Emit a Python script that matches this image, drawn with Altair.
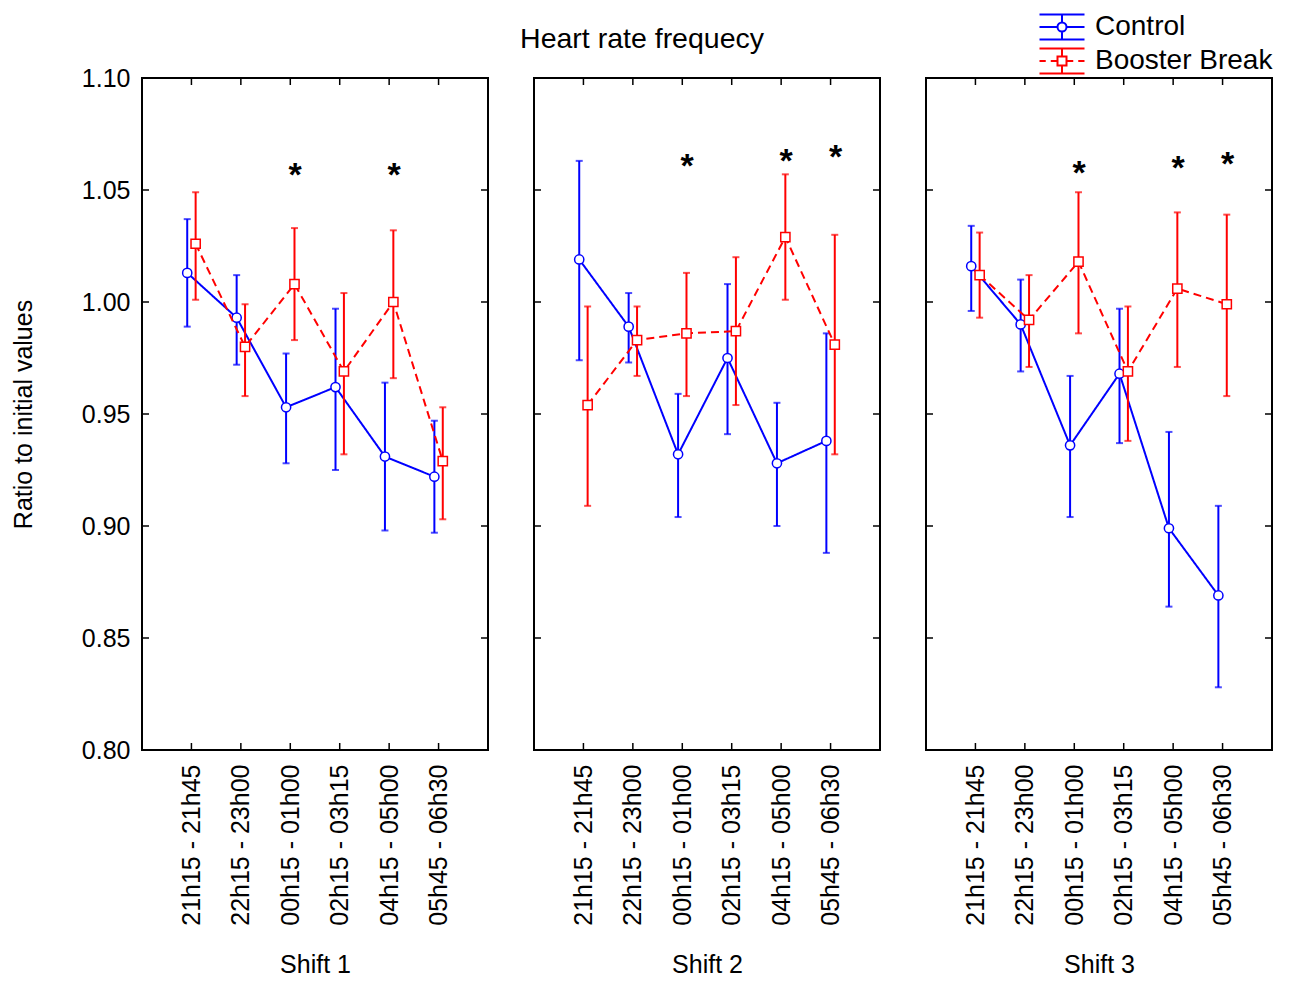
import altair as alt
import pandas as pd

# ---------------- data ----------------
slots = ["21h15 - 21h45", "22h15 - 23h00", "00h15 - 01h00",
         "02h15 - 03h15", "04h15 - 05h00", "05h45 - 06h30"]
shifts = ["Shift 1", "Shift 2", "Shift 3"]
groups = ["Control", "Booster Break"]

# Shift 1
s1_control_mean = [1.013, 0.993, 0.953, 0.962, 0.931, 0.922]
s1_control_lo = [0.989, 0.972, 0.928, 0.925, 0.898, 0.897]
s1_control_hi = [1.037, 1.012, 0.977, 0.997, 0.964, 0.947]
s1_booster_mean = [1.026, 0.980, 1.008, 0.969, 1.000, 0.929]
s1_booster_lo = [1.001, 0.958, 0.983, 0.932, 0.966, 0.903]
s1_booster_hi = [1.049, 0.999, 1.033, 1.004, 1.032, 0.953]

# Shift 2
s2_control_mean = [1.019, 0.989, 0.932, 0.975, 0.928, 0.938]
s2_control_lo = [0.974, 0.973, 0.904, 0.941, 0.900, 0.888]
s2_control_hi = [1.063, 1.004, 0.959, 1.008, 0.955, 0.986]
s2_booster_mean = [0.954, 0.983, 0.986, 0.987, 1.029, 0.981]
s2_booster_lo = [0.909, 0.967, 0.958, 0.954, 1.001, 0.932]
s2_booster_hi = [0.998, 0.998, 1.013, 1.020, 1.057, 1.030]

# Shift 3
s3_control_mean = [1.016, 0.990, 0.936, 0.968, 0.899, 0.869]
s3_control_lo = [0.996, 0.969, 0.904, 0.937, 0.864, 0.828]
s3_control_hi = [1.034, 1.010, 0.967, 0.997, 0.942, 0.909]
s3_booster_mean = [1.012, 0.992, 1.018, 0.969, 1.006, 0.999]
s3_booster_lo = [0.993, 0.971, 0.986, 0.938, 0.971, 0.958]
s3_booster_hi = [1.031, 1.012, 1.049, 0.998, 1.040, 1.039]

# significance markers: (slot number, height)
s1_stars_slot = [3, 5]
s1_stars_y = [1.059, 1.059]
s2_stars_slot = [3, 5, 6]
s2_stars_y = [1.063, 1.065, 1.067]
s3_stars_slot = [3, 5, 6]
s3_stars_y = [1.060, 1.062, 1.064]

y_ticks = [0.80, 0.85, 0.90, 0.95, 1.00, 1.05, 1.10]
inner_ticks = [0.85, 0.90, 0.95, 1.00, 1.05]

series = {
    "Shift 1": {"Control": (s1_control_mean, s1_control_lo, s1_control_hi),
                "Booster Break": (s1_booster_mean, s1_booster_lo, s1_booster_hi),
                "stars": (s1_stars_slot, s1_stars_y)},
    "Shift 2": {"Control": (s2_control_mean, s2_control_lo, s2_control_hi),
                "Booster Break": (s2_booster_mean, s2_booster_lo, s2_booster_hi),
                "stars": (s2_stars_slot, s2_stars_y)},
    "Shift 3": {"Control": (s3_control_mean, s3_control_lo, s3_control_hi),
                "Booster Break": (s3_booster_mean, s3_booster_lo, s3_booster_hi),
                "stars": (s3_stars_slot, s3_stars_y)},
}

rows = []
for sh in shifts:
    for g in groups:
        m, lo, hi = series[sh][g]
        for i in range(len(slots)):
            rows.append({"shift": sh, "group": g, "slot": i + 1,
                         "mean": m[i], "lo": lo[i], "hi": hi[i]})
df = pd.DataFrame(rows)

# ---------------- styling ----------------
FONT = "Liberation Sans"
W, H = 346, 672
COLORS = {"Control": "#0000ff", "Booster Break": "#ff0000"}
SHAPES = {"Control": "circle", "Booster Break": "square"}
DASH = {"Control": [1, 0], "Booster Break": [8, 5]}
OFFSET = {"Control": -0.085, "Booster Break": 0.085}

# legend glyphs (units: 1 = 12.5 px with symbolSize 625)
ctrl_path = ("M-1.8,-1H1.8M-1.8,1H1.8M-1.8,0H-0.36M0.36,0H1.8M0,-1V-0.36M0,0.36V1"
             "M0.36,0A0.36,0.36 0 1,1 -0.36,0A0.36,0.36 0 1,1 0.36,0Z")
boost_path = ("M-1.8,-1H1.8M-1.8,1H1.8M-1.8,0H-1.3M-0.9,0H-0.36M0.36,0H0.9M1.3,0H1.8"
              "M0,-1V-0.36M0,0.36V1M-0.36,-0.36H0.36V0.36H-0.36Z")

label_expr = "[" + ",".join("'%s'" % s for s in slots) + "][datum.value - 1]"
xscale = alt.Scale(domain=[0, 7], nice=False, zero=False)
yscale = alt.Scale(domain=[0.80, 1.10], nice=False, zero=False)


def x_axis(title):
    return alt.Axis(values=list(range(1, len(slots) + 1)), labelExpr=label_expr,
                    labelAngle=-90, ticks=False, domain=False, grid=False,
                    labelPadding=14, labelFontSize=25, labelFont=FONT,
                    labelColor="black", title=title, titleFontSize=25,
                    titleFont=FONT, titleFontWeight="normal", titleColor="black",
                    titlePadding=27)


def y_axis(first):
    if not first:
        return None
    return alt.Axis(values=y_ticks, format=".2f", ticks=False, domain=False,
                    grid=False, labelPadding=12, labelFontSize=25, labelFont=FONT,
                    labelColor="black", title="Ratio to initial values",
                    titleFontSize=25, titleFont=FONT, titleFontWeight="normal",
                    titleColor="black", titlePadding=45)


def panel(sh, first, with_legend):
    xa = x_axis(sh)
    ya = y_axis(first)
    d = df[df["shift"] == sh]
    layers = []

    # inward frame ticks
    tick_df = pd.DataFrame({"t": inner_ticks})
    slot_df = pd.DataFrame({"s": list(range(1, len(slots) + 1))})
    ty = alt.Y("t:Q", scale=yscale, axis=ya)
    tx = alt.X("s:Q", scale=xscale, axis=xa)
    layers.append(alt.Chart(tick_df).mark_rule(color="black", strokeWidth=1.5).encode(
        y=ty, x=alt.value(0), x2=alt.value(7)))
    layers.append(alt.Chart(tick_df).mark_rule(color="black", strokeWidth=1.5).encode(
        y=ty, x=alt.value(W - 7), x2=alt.value(W)))
    layers.append(alt.Chart(slot_df).mark_rule(color="black", strokeWidth=1.5).encode(
        x=tx, y=alt.value(0), y2=alt.value(7)))
    layers.append(alt.Chart(slot_df).mark_rule(color="black", strokeWidth=1.5).encode(
        x=tx, y=alt.value(H - 7), y2=alt.value(H)))

    for g in groups:
        c = COLORS[g]
        base = alt.Chart(d).transform_filter(alt.datum.group == g).transform_calculate(
            xp="datum.slot + (%f)" % OFFSET[g])
        X = alt.X("xp:Q", scale=xscale, axis=xa)
        layers.append(base.mark_rule(color=c, strokeWidth=2).encode(
            x=X, y=alt.Y("lo:Q", scale=yscale, axis=ya), y2="hi:Q"))
        for f in ["lo", "hi"]:
            layers.append(base.mark_tick(orient="horizontal", color=c, size=7,
                                         thickness=2).encode(
                x=X, y=alt.Y(f + ":Q", scale=yscale, axis=ya)))
        layers.append(base.mark_line(color=c, strokeWidth=2,
                                     strokeDash=DASH[g]).encode(
            x=X, y=alt.Y("mean:Q", scale=yscale, axis=ya), order="slot:Q"))
        layers.append(base.mark_point(shape=SHAPES[g], filled=True, fill="white",
                                      stroke=c, strokeWidth=1.5, size=85,
                                      opacity=1).encode(
            x=X, y=alt.Y("mean:Q", scale=yscale, axis=ya)))

    st_slot, st_y = series[sh]["stars"]
    star_df = pd.DataFrame({"slot": st_slot, "sy": st_y})
    layers.append(alt.Chart(star_df).transform_calculate(xp="datum.slot + 0.1").mark_text(
        text="*", fontSize=34, fontWeight="bold", font=FONT, color="black",
        baseline="middle", dy=6).encode(
        x=alt.X("xp:Q", scale=xscale, axis=xa),
        y=alt.Y("sy:Q", scale=yscale, axis=ya)))

    if with_legend:
        leg = alt.Legend(title=None, orient="none", legendX=906, legendY=-65,
                         symbolSize=625, symbolStrokeWidth=2,
                         symbolFillColor="white", symbolOpacity=1,
                         labelFontSize=28, labelFont=FONT, labelColor="black",
                         labelOffset=19, labelLimit=0, padding=0, rowPadding=0)
        layers.append(alt.Chart(df).transform_filter("false").mark_point().encode(
            x=alt.X("slot:Q", scale=xscale, axis=xa),
            y=alt.Y("mean:Q", scale=yscale, axis=ya),
            color=alt.Color("group:N", scale=alt.Scale(domain=groups,
                            range=[COLORS[g] for g in groups]), legend=leg),
            shape=alt.Shape("group:N", scale=alt.Scale(domain=groups,
                            range=[ctrl_path, boost_path]), legend=leg)))

    return alt.layer(*layers).properties(width=W, height=H)


chart = alt.hconcat(
    panel("Shift 1", True, False),
    panel("Shift 2", False, False),
    panel("Shift 3", False, True),
    spacing=42,
).properties(
    title=alt.TitleParams("Heart rate frequecy", fontSize=28.5, font=FONT,
                          fontWeight="normal", color="black", anchor="middle",
                          offset=-40),
    padding={"left": 10, "top": 13, "right": 5, "bottom": 0},
).configure(
    font=FONT, background="white"
).configure_view(
    stroke="black", strokeWidth=2
)

chart.save("out.html", embed_options={"renderer": "svg", "actions": False})
